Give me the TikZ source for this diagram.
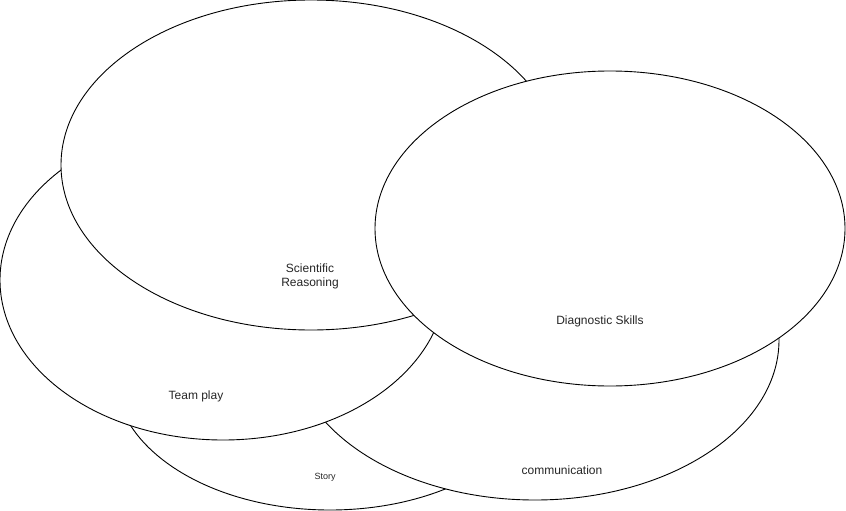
\documentclass[tikz,border=0pt]{standalone}
\usepackage{fontspec}
\setmainfont{Liberation Sans}
\usetikzlibrary{shapes.geometric}
\begin{document}
\begin{tikzpicture}[x=1pt,y=-1pt,
  blob/.style={ellipse,draw=black,fill=white,line width=0.9pt,inner sep=0pt},
  txt/.style={font=\fontsize{12}{14}\selectfont,text=black!85,align=center,inner sep=0pt},
  smalltxt/.style={font=\fontsize{9}{11}\selectfont,text=black!85,align=center,inner sep=0pt}]
\fill[white] (0,0) rectangle (846,511);
\useasboundingbox (0,0) rectangle (846,511);
% Story
\node[blob,minimum width=430pt,minimum height=270pt] (story) at (330,375) {};
\node[smalltxt] (storyt) at (325,477) {Story};
% communication
\node[blob,minimum width=488pt,minimum height=320pt] (comm) at (535,340) {};
\node[txt] (commt) at (562,470) {communication};
% Team play
\node[blob,minimum width=446pt,minimum height=320pt] (team) at (223,280) {};
\node[txt] (teamt) at (196,396) {Team play};
% Scientific Reasoning
\node[blob,minimum width=500pt,minimum height=330pt] (sr) at (311,165) {};
\node[txt] (srt) at (310,276) {Scientific\\Reasoning};
% Diagnostic Skills
\node[blob,minimum width=470pt,minimum height=315pt] (diag) at (610,228.5) {};
\node[txt] (diagt) at (600,321) {Diagnostic Skills};
\end{tikzpicture}
\end{document}
